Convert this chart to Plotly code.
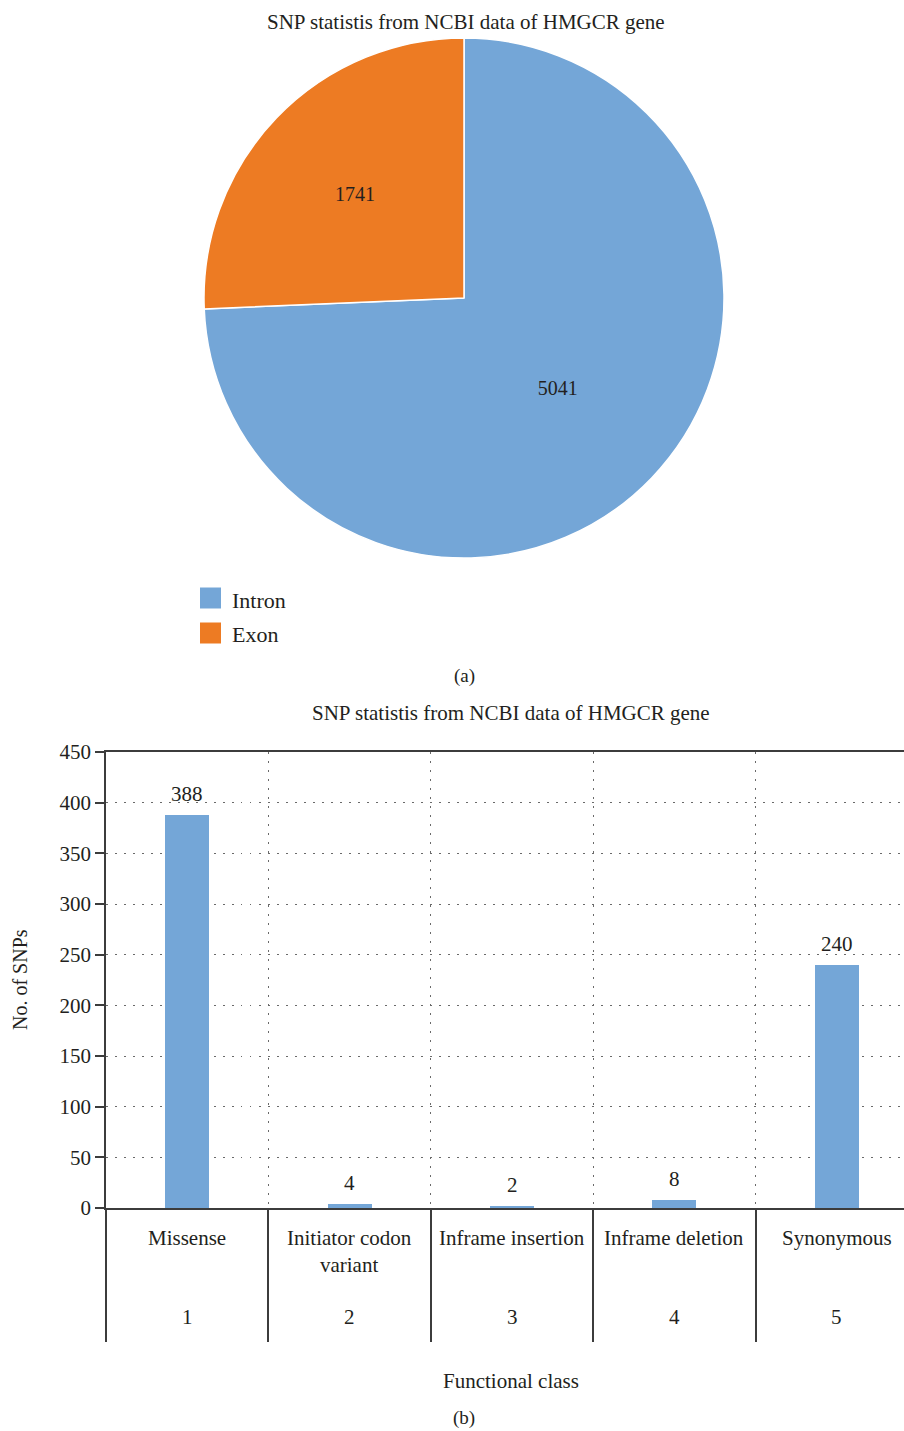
import plotly.graph_objects as go

W, H = 904, 1431
FONT = "Liberation Serif"
INK = "#231f20"
AXIS = "#3c3c3c"
GRID = "#6a6a6a"

# Pie: intron vs exon SNP counts
pie_labels = ["Intron", "Exon"]
pie_values = [5041, 1741]
pie_colors = ["#74a6d7", "#ed7b23"]

# Bars: SNP counts by functional class
classes = ["Missense", "Initiator codon<br>variant", "Inframe insertion",
           "Inframe deletion", "Synonymous"]
class_ids = ["1", "2", "3", "4", "5"]
snp_counts = [388, 4, 2, 8, 240]
y_ticks = [0, 50, 100, 150, 200, 250, 300, 350, 400, 450]

title_text = "SNP statistis from NCBI data of HMGCR gene"


def fx(px):
    return px / W


def fy(px):
    return 1 - px / H


fig = go.Figure()

fig.add_trace(go.Pie(
    labels=pie_labels,
    values=pie_values,
    marker=dict(colors=pie_colors, line=dict(color="white", width=1.5)),
    sort=False,
    direction="clockwise",
    rotation=0,
    textinfo="value",
    textposition="inside",
    insidetextorientation="horizontal",
    textfont=dict(family=FONT, size=20, color=INK),
    domain=dict(x=[fx(204), fx(724)], y=[fy(558), fy(38)]),
    showlegend=False,
    hoverinfo="label+value",
))

xpos = list(range(len(classes)))
fig.add_trace(go.Bar(
    x=xpos,
    y=snp_counts,
    width=0.27,
    marker=dict(color=pie_colors[0], line=dict(width=0)),
    showlegend=False,
))

cat_px = 162.4
boundaries = [i - 0.5 for i in range(len(classes) + 1)]

fig.update_xaxes(
    domain=[fx(106), 1],
    range=[-0.5, -0.5 + (W - 106) / cat_px],
    tickvals=boundaries,
    ticktext=[""] * len(boundaries),
    ticks="outside",
    ticklen=132,
    tickwidth=1.5,
    tickcolor=AXIS,
    showgrid=True,
    griddash="1.5px,7.5px",
    gridcolor=GRID,
    gridwidth=1,
    showline=True,
    linecolor=AXIS,
    linewidth=2,
    mirror=True,
    zeroline=False,
    automargin=False,
    fixedrange=True,
)
fig.update_yaxes(
    domain=[fy(1208), fy(752)],
    range=[0, 450],
    tickvals=y_ticks,
    ticks="outside",
    ticklen=9,
    tickwidth=1.5,
    tickcolor=AXIS,
    tickfont=dict(family=FONT, size=21, color=INK),
    showgrid=True,
    griddash="1.5px,7.5px",
    gridcolor=GRID,
    gridwidth=1,
    showline=True,
    linecolor=AXIS,
    linewidth=1.5,
    zeroline=False,
    automargin=False,
    fixedrange=True,
)

ann = []


def text_at(x, y, s, size=21, xref="paper", yref="paper", **kw):
    kw.setdefault("xanchor", "center")
    ann.append(dict(x=x, y=y, xref=xref, yref=yref, text=s, showarrow=False,
                    font=dict(family=FONT, size=size, color=INK), **kw))


# titles and panel letters
text_at(fx(466), fy(22), title_text, size=21, yanchor="middle")
text_at(fx(464), fy(676), "(a)", size=19, yanchor="middle")
text_at(fx(511), fy(713), title_text, size=21, yanchor="middle")
text_at(fx(464), fy(1418), "(b)", size=19, yanchor="middle")
text_at(fx(511), fy(1381), "Functional class", size=21, yanchor="middle")
text_at(fx(20), fy(980), "No. of SNPs", size=20, yanchor="middle", textangle=-90)

# value labels above the bars
for i, v in enumerate(snp_counts):
    text_at(i, v, str(v), size=21, xref="x", yref="y", yanchor="bottom", yshift=7)

# category labels and class numbers under the axis
for i, (name, cid) in enumerate(zip(classes, class_ids)):
    text_at(i, fy(1224), name, size=21, xref="x", yanchor="top")
    text_at(i, fy(1317), cid, size=21, xref="x", yanchor="middle")

# legend for the pie
shapes = []
for k, (lab, col) in enumerate(zip(pie_labels, pie_colors)):
    yc = 598 + 35 * k
    shapes.append(dict(type="rect", xref="paper", yref="paper",
                       x0=fx(200), x1=fx(221), y0=fy(yc + 10.5), y1=fy(yc - 10.5),
                       fillcolor=col, line=dict(width=0)))
    text_at(fx(230), fy(yc + 2), lab, size=22, xanchor="left", yanchor="middle")

fig.update_layout(
    width=W,
    height=H,
    margin=dict(l=0, r=0, t=0, b=0, pad=0, autoexpand=False),
    paper_bgcolor="white",
    plot_bgcolor="white",
    annotations=ann,
    shapes=shapes,
    bargap=0,
    showlegend=False,
    font=dict(family=FONT, color=INK),
)

fig.write_html("out.html")
